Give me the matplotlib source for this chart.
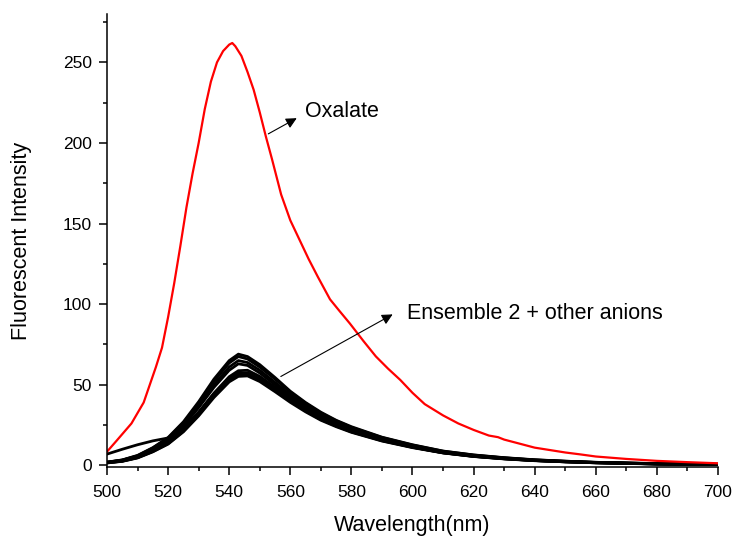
import matplotlib
matplotlib.use('Agg')
import matplotlib.pyplot as plt
from matplotlib.ticker import MultipleLocator

plt.rcParams['font.family'] = ['Liberation Sans', 'DejaVu Sans']

# Oxalate spectrum (red)
wl_ox = [500, 503, 508, 512, 516, 518, 520, 522, 524, 526, 528, 530, 532, 534,
         536, 538, 540, 541, 542, 544, 546, 548, 550, 552, 554, 557, 560, 563, 566, 569,
         571, 573, 576, 579.5, 584, 588, 592, 596, 600, 604, 610, 615, 620, 625,
         628, 630, 635, 640, 645, 650, 655, 660, 670, 680, 690, 700]
int_ox = [8.5, 15, 26, 39, 61, 73, 92, 113, 136, 160, 181, 200, 221, 238,
          250, 257, 261, 262, 260, 254, 244, 233, 219, 204, 190, 168, 152, 140, 128, 117,
          110, 103, 96, 88, 77, 67.6, 60, 53, 45, 38, 31, 26, 22, 18.5,
          17.5, 16, 13.5, 11, 9.5, 8, 6.8, 5.5, 4, 2.8, 2, 1.3]

# Ensemble 2 + other anions (black)
wl_ens = [500, 505, 510, 515, 520, 525, 530, 535, 540, 543, 546, 550, 555, 560, 565,
          570, 575, 580, 590, 600, 610, 620, 630, 640, 650, 660, 680, 700]
ens_a = [2.0, 3.4, 6.2, 11, 17.3, 27, 39.5, 53.5, 65, 69, 67.5, 62.5, 54.5, 46, 39,
         33, 28, 24, 17.5, 12.8, 8.9, 6.5, 4.8, 3.5, 2.6, 1.9, 1.1, 0.7]
ens_b = [2.0, 3.3, 6.0, 10.8, 16.9, 26.3, 38.5, 52, 63.5, 67.5, 66, 61, 53.5, 45.3, 38.5,
         32.4, 27.7, 23.6, 17.3, 12.6, 8.8, 6.4, 4.7, 3.4, 2.6, 1.9, 1.1, 0.7]
ens_c = [1.9, 3.2, 5.8, 10.4, 16.2, 25.3, 37, 50, 61, 65, 63.8, 59, 51.5, 43.8, 37.2,
         31.3, 26.8, 22.8, 16.8, 12.3, 8.5, 6.2, 4.6, 3.3, 2.5, 1.8, 1.0, 0.6]
ens_d = [1.9, 3.1, 5.6, 10, 15.7, 24.5, 35.8, 48.4, 59, 63, 62, 57.3, 50, 42.5, 36,
         30.3, 26, 22.2, 16.4, 12, 8.3, 6.0, 4.4, 3.2, 2.4, 1.8, 1.0, 0.6]
ens_e = [1.7, 2.8, 5.0, 9.0, 14.2, 22.3, 32.8, 44.8, 55, 58.7, 59, 55.2, 48.5, 41.5, 35.2,
         29.7, 25.4, 21.7, 16, 11.7, 8.1, 5.8, 4.3, 3.1, 2.3, 1.7, 0.9, 0.6]
ens_f = [1.6, 2.7, 4.9, 8.8, 13.8, 21.7, 32, 43.7, 53.6, 57.2, 57.5, 53.8, 47.3, 40.5, 34.4,
         29, 24.8, 21.2, 15.6, 11.4, 7.9, 5.7, 4.2, 3.0, 2.3, 1.7, 0.9, 0.5]
ens_g = [1.6, 2.6, 4.8, 8.6, 13.5, 21.2, 31.3, 42.9, 52.7, 56.2, 56.5, 52.9, 46.5, 39.8, 33.8,
         28.5, 24.4, 20.8, 15.3, 11.2, 7.8, 5.6, 4.1, 3.0, 2.2, 1.6, 0.9, 0.5]
ens_h = [1.5, 2.5, 4.6, 8.4, 13.2, 20.8, 30.7, 42.1, 51.8, 55.2, 55.5, 52, 45.7, 39.1, 33.2,
         28, 24, 20.5, 15.1, 11, 7.7, 5.5, 4.0, 2.9, 2.2, 1.6, 0.8, 0.5]
ens_i = [7.0, 10, 12.8, 15.2, 17, 23.5, 33, 44.5, 54, 57, 56.8, 53.3, 46.8, 40, 34,
         28.7, 24.6, 21, 15.5, 11.3, 7.8, 5.6, 4.1, 3.0, 2.2, 1.6, 0.9, 0.5]
ensembles = [ens_a, ens_b, ens_c, ens_d, ens_e, ens_f, ens_g, ens_h, ens_i]

fig = plt.figure(figsize=(7.37, 5.40), dpi=100)
ax = fig.add_axes([0.1452, 0.1352, 0.829, 0.8389])

for ens in ensembles:
    ax.plot(wl_ens, ens, color='black', lw=2.0)
ax.plot(wl_ox, int_ox, color='#ff0000', lw=1.6)

ax.set_xlim(500, 700)
ax.set_ylim(-1, 280)
ax.xaxis.set_major_locator(MultipleLocator(20))
ax.xaxis.set_minor_locator(MultipleLocator(10))
ax.yaxis.set_major_locator(MultipleLocator(50))
ax.yaxis.set_minor_locator(MultipleLocator(25))

for side in ['top', 'right']:
    ax.spines[side].set_visible(False)
for side in ['left', 'bottom']:
    ax.spines[side].set_linewidth(1.1)
ax.tick_params(which='major', direction='out', length=6, width=1.1, labelsize=12.5)
ax.tick_params(axis='x', which='major', pad=7)
ax.tick_params(axis='y', which='major', pad=5)
ax.tick_params(which='minor', direction='out', length=3, width=1.1)

ax.set_xlabel('Wavelength(nm)', fontsize=15.5, labelpad=11)
ax.set_ylabel('Fluorescent Intensity', fontsize=15.5, labelpad=22)

arrow = dict(arrowstyle='-|>', color='black', lw=0.8, mutation_scale=16)
ax.annotate('', xy=(562.9, 216.2), xytext=(552, 204.8), arrowprops=arrow)
ax.text(564.8, 219.3, 'Oxalate', fontsize=15.5, va='center', ha='left')
ax.annotate('', xy=(594.3, 94.5), xytext=(556.1, 54.3), arrowprops=arrow)
ax.text(598.1, 94, 'Ensemble 2 + other anions', fontsize=15.5, va='center', ha='left')

fig.savefig('out.png', dpi=100)
